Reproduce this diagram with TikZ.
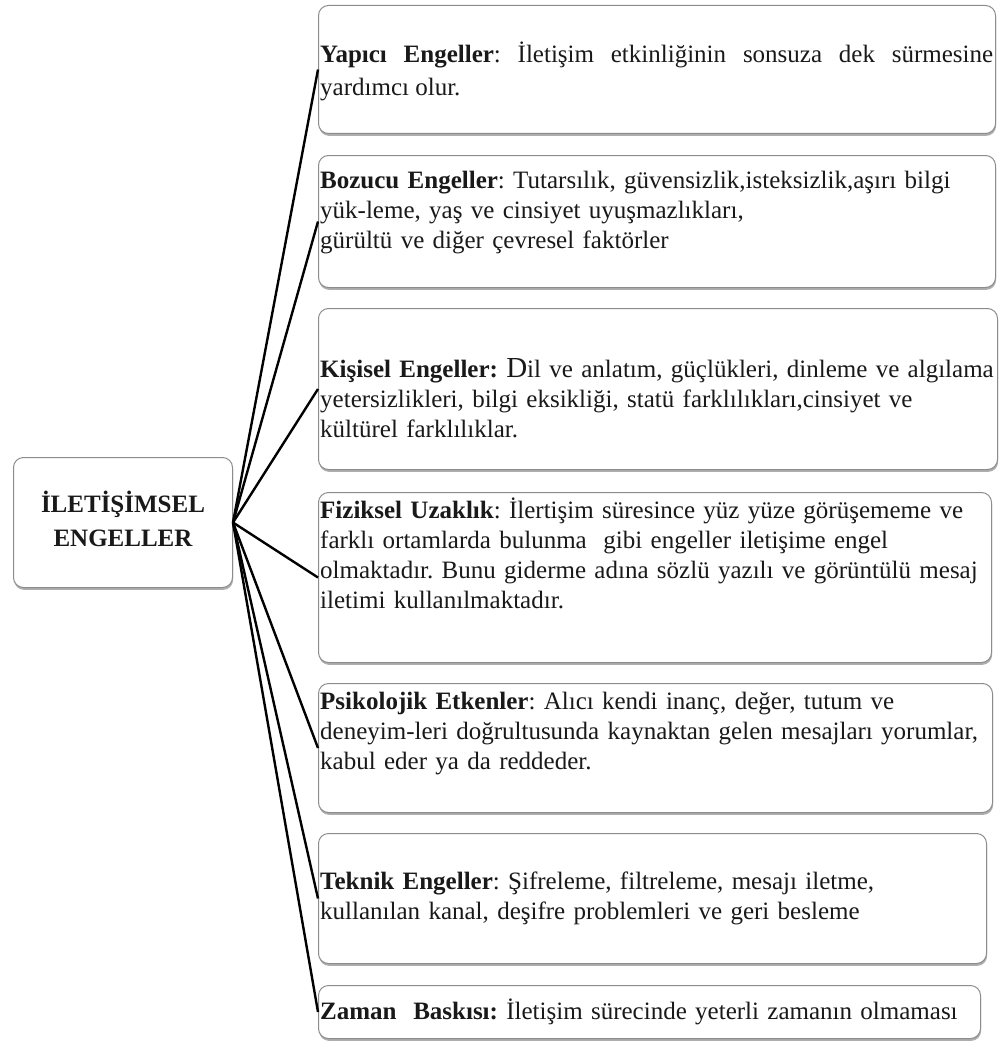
\documentclass[tikz,border=0pt]{standalone}
\usepackage{fontspec}
\setmainfont{Liberation Serif}
\usetikzlibrary{shadows}
\hyphenpenalty=10000
\frenchspacing
\begin{document}
\begin{tikzpicture}[x=1pt,y=-1pt,
  card/.style={draw=black!45, line width=1pt, rounded corners=10pt, fill=white,
    drop shadow={shadow xshift=0.6pt, shadow yshift=-2.4pt, opacity=0.45, fill=black!70},
    inner sep=0pt, anchor=north west},
  body/.style={anchor=base west, inner sep=0pt, text width=720pt, align=left, text=black!90,
    font=\fontsize{25}{30}\selectfont},
  link/.style={line width=2.4pt, black}]
\useasboundingbox (0,0) rectangle (999,1046);

% central topic
\node[card, minimum width=219pt, minimum height=130pt, text=black!90,
  font=\bfseries\fontsize{25}{34}\selectfont] (root) at (13,457)
  {\raisebox{4pt}{\begin{tabular}{@{}c@{}}İLETİŞİMSEL\\ENGELLER\end{tabular}}};

% barrier cards
\node[card, minimum width=677pt, minimum height=128pt] (b1) at (318,5) {};
\node[card, minimum width=677pt, minimum height=132pt] (b2) at (318,155) {};
\node[card, minimum width=679pt, minimum height=161pt] (b3) at (318,308) {};
\node[card, minimum width=673pt, minimum height=170pt] (b4) at (318,492) {};
\node[card, minimum width=674pt, minimum height=129pt] (b5) at (318,683) {};
\node[card, minimum width=668pt, minimum height=130pt] (b6) at (318,833) {};
\node[card, minimum width=662pt, minimum height=53pt] (b7) at (318,985) {};

% card texts
\node[body, text width=673pt, align=justify, font=\fontsize{25}{33}\selectfont] (t1) at (320,63)
  {\textbf{Yapıcı Engeller}: İletişim etkinliğinin sonsuza dek sürmesine\linebreak yardımcı olur.};
\node[body] (t2) at (320,188)
  {\textbf{Bozucu Engeller}: Tutarsılık, güvensizlik,isteksizlik,aşırı bilgi\\
   yük-leme, yaş ve cinsiyet uyuşmazlıkları,\\
   gürültü ve diğer çevresel faktörler};
\node[body] (t3) at (320,377)
  {\textbf{Kişisel Engeller:} {\fontsize{29}{30}\selectfont D}il ve anlatım, güçlükleri, dinleme ve algılama\\
   yetersizlikleri, bilgi eksikliği, statü farklılıkları,cinsiyet ve\\
   kültürel farklılıklar.};
\node[body] (t4) at (320,518)
  {\textbf{Fiziksel Uzaklık}: İlertişim süresince yüz yüze görüşememe ve\\
   farklı ortamlarda bulunma\ \ gibi engeller iletişime engel\\
   olmaktadır. Bunu giderme adına sözlü yazılı ve görüntülü mesaj\\
   iletimi kullanılmaktadır.};
\node[body] (t5) at (320,709)
  {\textbf{Psikolojik Etkenler}: Alıcı kendi inanç, değer, tutum ve\\
   deneyim-leri doğrultusunda kaynaktan gelen mesajları yorumlar,\\
   kabul eder ya da reddeder.};
\node[body] (t6) at (320,889)
  {\textbf{Teknik Engeller}: Şifreleme, filtreleme, mesajı iletme,\\
   kullanılan kanal, deşifre problemleri ve geri besleme};
\node[body] (t7) at (320,1019)
  {\textbf{Zaman\ \ Baskısı:} İletişim sürecinde yeterli zamanın olmaması};

% connectors from the central topic to every card
\foreach \i in {1,...,7}
  \draw[link] (root.east) -- (b\i.west);
\end{tikzpicture}
\end{document}
